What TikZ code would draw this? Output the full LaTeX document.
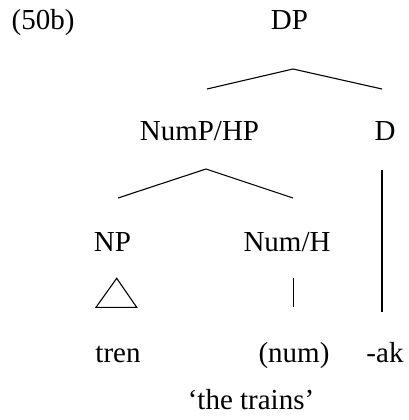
\documentclass[tikz,border=0pt]{standalone}
\usepackage{fontspec}
\setmainfont{Liberation Serif}
\begin{document}
\begin{tikzpicture}[x=1pt,y=-1pt,
  lbl/.style={inner sep=0pt,anchor=base,font=\fontsize{29}{33}\selectfont},
  branch/.style={line width=1.1pt,black},
  thick branch/.style={line width=1.8pt,black}]
\useasboundingbox (0,0) rectangle (409,420);
% labels
\node[lbl,anchor=base west] (ex) at (11.5,30) {(50b)};
\node[lbl] (dp) at (289.5,30) {DP};
\node[lbl] (nump) at (199.5,140) {NumP/HP};
\node[lbl] (d) at (385,140) {D};
\node[lbl] (np) at (112.5,251) {NP};
\node[lbl] (numh) at (287,251) {Num/H};
\node[lbl] (tren) at (118,362) {tren};
\node[lbl] (num) at (294,362) {(num)};
\node[lbl] (ak) at (385,362) {-ak};
\node[lbl] (gloss) at (251,409) {‘the trains’};
% branch points
\coordinate (dpT) at (293,69);
\coordinate (dpL) at (207,89);
\coordinate (dpR) at (382,89);
\coordinate (nT) at (206,169);
\coordinate (nL) at (118,198);
\coordinate (nR) at (293,198);
\coordinate (dT) at (382.3,170);
\coordinate (dB) at (382.3,312);
\coordinate (hT) at (293.3,278);
\coordinate (hB) at (293.3,307);
\coordinate (triT) at (116.7,278.3);
\coordinate (triL) at (96,307.3);
\coordinate (triR) at (136.7,307.3);
\draw[branch] (dpL) -- (dpT) -- (dpR);
\draw[branch] (nL) -- (nT) -- (nR);
\draw[thick branch] (dT) -- (dB);
\draw[line width=0.8pt] (hT) -- (hB);
\draw[branch,line join=miter] (triT) -- (triL) -- (triR) -- cycle;
\end{tikzpicture}
\end{document}
